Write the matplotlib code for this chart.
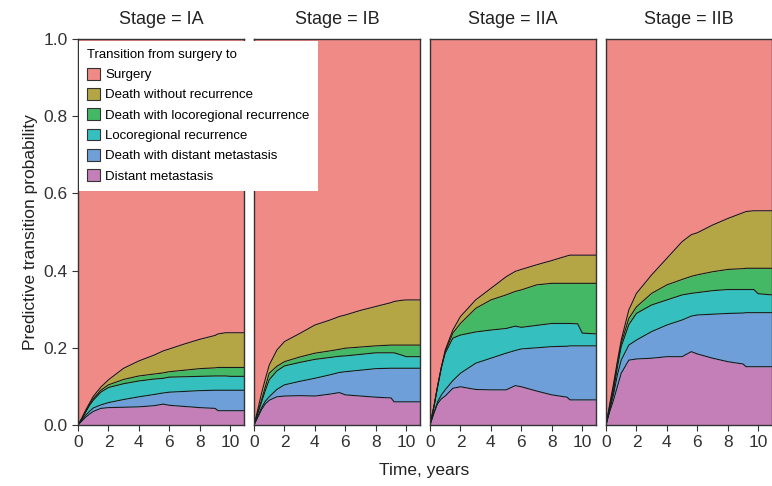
import numpy as np
import matplotlib.pyplot as plt
from matplotlib.patches import Patch

# time grid (years)
t = [0, 0.25, 0.5, 0.75, 1, 1.5, 2, 3, 4, 5, 5.6, 6, 7, 8, 9, 9.2, 9.7, 10, 10.9]

stages = ["IA", "IB", "IIA", "IIB"]
states = ["Surgery", "Death without recurrence", "Death with locoregional recurrence",
          "Locoregional recurrence", "Death with distant metastasis", "Distant metastasis"]
colors = ["#F08A86", "#B4A545", "#45B865", "#35BFBF", "#6F9FD8", "#C47FB8"]

# cumulative upper boundary of each stacked state (bottom -> top)
# order: distant metastasis, death w/ distant, locoregional, death w/ locoregional, death w/o recurrence
ia_pink = [0, .01, .02, .028, .035, .043, .045, .046, .047, .050, .054, .051, .048, .045, .043, .037, .037, .037, .037]
ia_blue = [0, .012, .025, .035, .044, .052, .058, .066, .073, .079, .083, .085, .087, .089, .090, .090, .090, .090, .090]
ia_teal = [0, .015, .033, .05, .064, .085, .097, .107, .114, .119, .121, .124, .125, .126, .127, .127, .127, .126, .126]
ia_green = [0, .016, .035, .053, .068, .09, .104, .118, .127, .132, .135, .138, .142, .146, .148, .149, .149, .149, .149]
ia_olive = [0, .018, .038, .056, .074, .098, .117, .147, .166, .181, .192, .197, .210, .222, .232, .236, .239, .239, .239]

ib_pink = [0, .02, .04, .055, .064, .073, .075, .076, .075, .080, .084, .078, .075, .072, .070, .060, .060, .060, .060]
ib_blue = [0, .022, .045, .062, .073, .092, .104, .113, .121, .130, .136, .138, .142, .146, .147, .147, .147, .147, .147]
ib_teal = [0, .03, .06, .09, .117, .140, .153, .162, .170, .175, .178, .179, .183, .187, .187, .187, .181, .177, .177]
ib_green = [0, .032, .065, .10, .134, .152, .164, .176, .186, .192, .196, .199, .202, .205, .207, .207, .207, .207, .207]
ib_olive = [0, .04, .083, .12, .155, .194, .216, .237, .259, .272, .281, .285, .297, .307, .317, .320, .323, .324, .324]

iia_pink = [0, .03, .055, .068, .075, .095, .099, .092, .091, .091, .102, .099, .088, .078, .072, .065, .065, .065, .065]
iia_blue = [0, .03, .06, .078, .091, .115, .134, .160, .173, .186, .193, .197, .200, .203, .204, .205, .205, .205, .205]
iia_teal = [0, .045, .10, .15, .186, .225, .233, .241, .246, .250, .256, .253, .258, .263, .263, .263, .262, .238, .236]
iia_green = [0, .046, .10, .15, .190, .238, .263, .302, .324, .337, .346, .350, .363, .367, .367, .367, .367, .367, .367]
iia_olive = [0, .047, .10, .15, .194, .246, .281, .324, .354, .384, .398, .403, .415, .426, .438, .440, .440, .440, .440]

iib_pink = [0, .035, .065, .10, .134, .168, .171, .173, .177, .177, .190, .184, .173, .164, .158, .151, .151, .151, .151]
iib_blue = [0, .04, .08, .13, .168, .207, .220, .242, .259, .272, .282, .285, .287, .289, .290, .291, .291, .291, .291]
iib_teal = [0, .045, .09, .15, .203, .260, .289, .311, .324, .337, .341, .343, .348, .351, .351, .351, .351, .340, .337]
iib_green = [0, .05, .10, .16, .212, .276, .306, .341, .363, .377, .385, .389, .397, .403, .405, .406, .406, .406, .406]
iib_olive = [0, .055, .108, .165, .220, .298, .341, .389, .432, .475, .493, .498, .518, .535, .550, .553, .555, .555, .555]

bounds = {
    "IA": [ia_pink, ia_blue, ia_teal, ia_green, ia_olive],
    "IB": [ib_pink, ib_blue, ib_teal, ib_green, ib_olive],
    "IIA": [iia_pink, iia_blue, iia_teal, iia_green, iia_olive],
    "IIB": [iib_pink, iib_blue, iib_teal, iib_green, iib_olive],
}

plt.rcParams['font.family'] = ['Liberation Sans', 'DejaVu Sans']

fig = plt.figure(figsize=(7.72, 4.86), dpi=100)
lefts = [78, 254, 430, 606]
pw = 166
for i, st in enumerate(stages):
    ax = fig.add_axes([lefts[i] / 772, 61 / 486, pw / 772, 386 / 486])
    levels = [np.zeros(len(t))] + [np.array(b) for b in bounds[st]] + [np.ones(len(t))]
    # fill from bottom (distant metastasis) to top (surgery)
    fill_cols = colors[::-1]
    for k in range(len(levels) - 1):
        ax.fill_between(t, levels[k], levels[k + 1], color=fill_cols[k], lw=0)
    for k in range(1, len(levels) - 1):
        ax.plot(t, levels[k], color="#1a1a1a", lw=0.8)
    ax.set_xlim(0, 10.9)
    ax.set_ylim(0, 1)
    ax.set_xticks([0, 2, 4, 6, 8, 10])
    ax.tick_params(axis='x', labelsize=12.5, length=4, color="#333333", labelcolor="#333333")
    if i == 0:
        ax.set_yticks([0, 0.2, 0.4, 0.6, 0.8, 1.0])
        ax.set_yticklabels(["0.0", "0.2", "0.4", "0.6", "0.8", "1.0"])
        ax.tick_params(axis='y', labelsize=12.5, length=4, color="#333333", labelcolor="#333333")
        ax.set_ylabel("Predictive transition probability", fontsize=12.5, color="#222222")
    else:
        ax.set_yticks([])
    for sp in ax.spines.values():
        sp.set_color("#333333")
        sp.set_linewidth(1.0)
    ax.set_title("Stage = " + st, fontsize=13, color="#222222", pad=11)

fig.text(424 / 772, 8 / 486, "Time, years", ha="center", va="bottom", fontsize=12.5, color="#222222")

handles = [Patch(facecolor=c, edgecolor="#333333", lw=0.8) for c in colors]
leg = fig.legend(handles, states, title="Transition from surgery to",
                 loc="upper left", bbox_to_anchor=(79 / 772, 445 / 486),
                 fontsize=9.5, title_fontsize=9.5, frameon=True, fancybox=False,
                 framealpha=1, edgecolor="white", borderpad=0.6, borderaxespad=0,
                 handlelength=1.0, handleheight=1.0, handletextpad=0.4,
                 labelspacing=0.52, alignment="left")
leg.get_frame().set_linewidth(0)
leg.set_zorder(10)

fig.savefig("out.png", dpi=100)
